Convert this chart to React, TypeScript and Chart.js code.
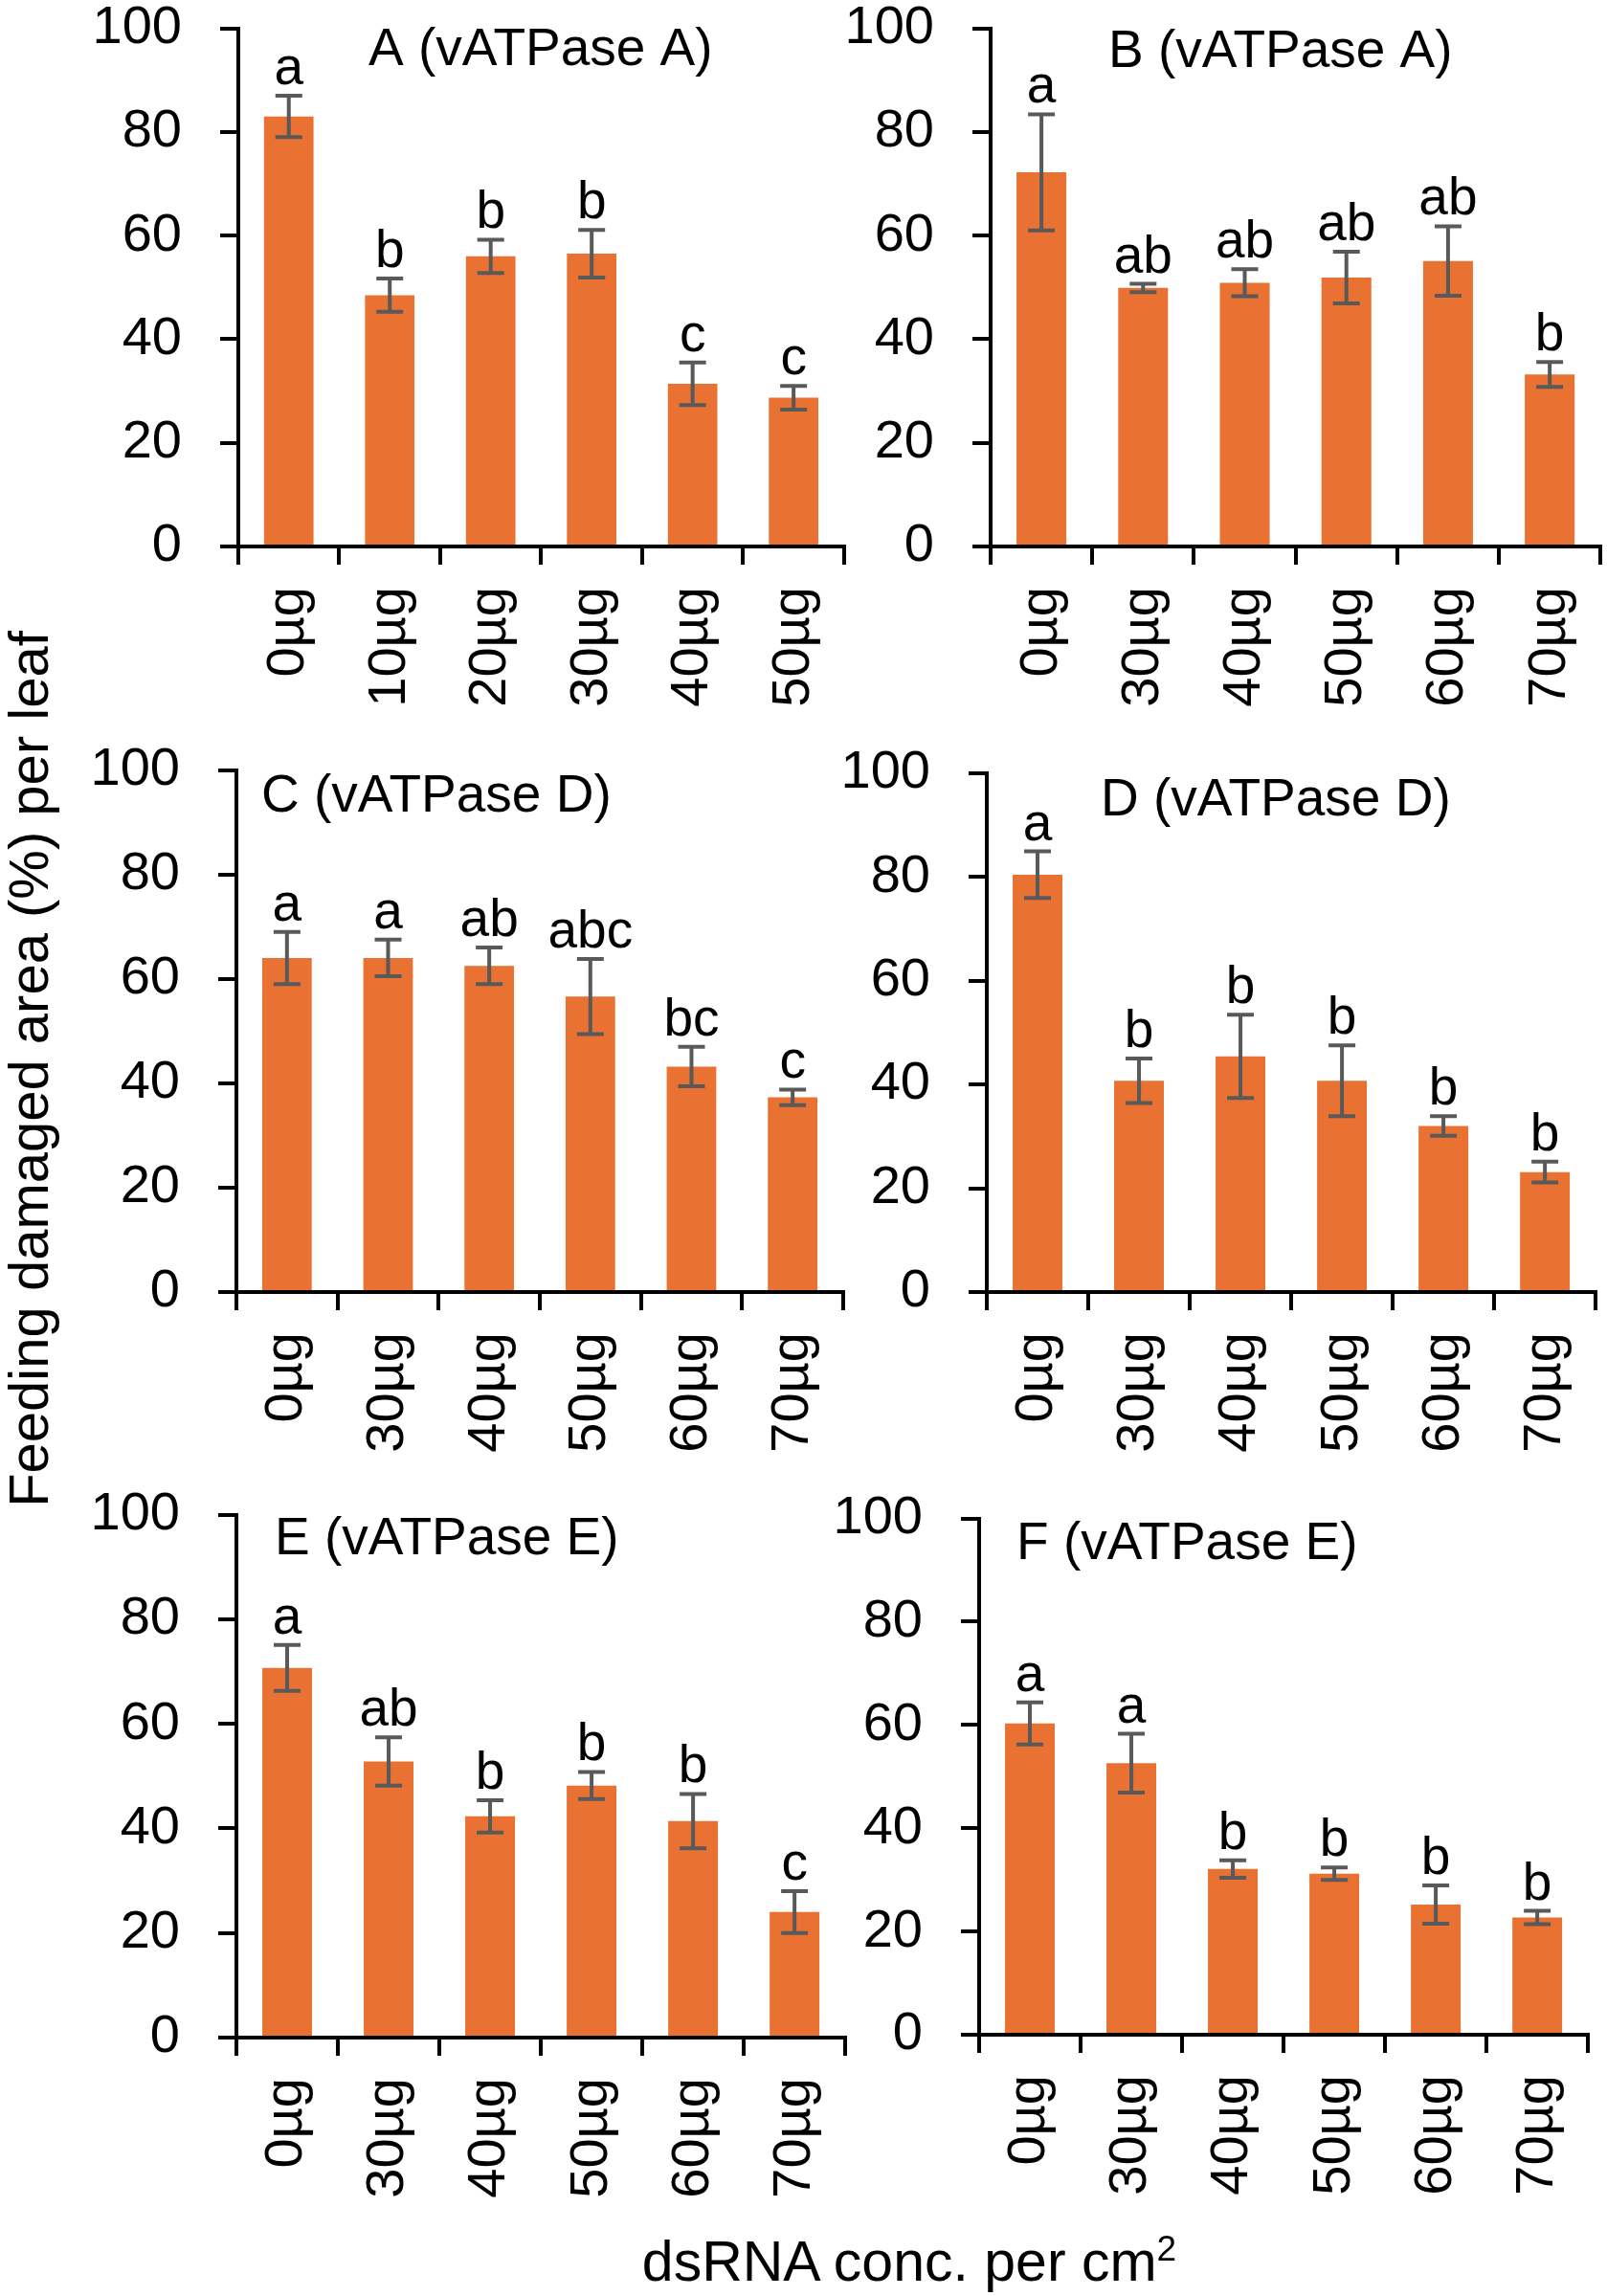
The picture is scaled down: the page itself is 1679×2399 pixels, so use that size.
import { useEffect, useRef } from "react"
import { Chart, registerables } from "chart.js"

Chart.register(...registerables)

const FONT = "'Liberation Sans', Arial, Helvetica, sans-serif"
const BAR_COLOR = "#E97132"
const ERR_COLOR = "#595959"

// categories
const dosesA = ["0µg", "10µg", "20µg", "30µg", "40µg", "50µg"]
const dosesB = ["0µg", "30µg", "40µg", "50µg", "60µg", "70µg"]

// panel A (vATPase A)
const meanA = [83, 48.5, 56, 56.5, 31.4, 28.7]
const errA = [4, 3.2, 3.2, 4.6, 4.1, 2.3]
const lettersA = ["a", "b", "b", "b", "c", "c"]

// panel B (vATPase A)
const meanB = [72.2, 49.9, 50.9, 51.9, 55.1, 33.2]
const errB = [11.2, 0.8, 2.6, 5, 6.7, 2.4]
const lettersB = ["a", "ab", "ab", "ab", "ab", "b"]

// panel C (vATPase D)
const meanC = [64, 64, 62.5, 56.6, 43.2, 37.3]
const errC = [5, 3.5, 3.5, 7.2, 3.8, 1.5]
const lettersC = ["a", "a", "ab", "abc", "bc", "c"]

// panel D (vATPase D)
const meanD = [80.4, 40.7, 45.4, 40.7, 32, 23.1]
const errD = [4.5, 4.3, 8, 6.8, 1.9, 2]
const lettersD = ["a", "b", "b", "b", "b", "b"]

// panel E (vATPase E)
const meanE = [70.7, 52.8, 42.3, 48.2, 41.4, 24]
const errE = [4.4, 4.6, 3.1, 2.6, 5.2, 4]
const lettersE = ["a", "ab", "b", "b", "b", "c"]

// panel F (vATPase E)
const meanF = [60.3, 52.6, 32.1, 31.2, 25.2, 22.7]
const errF = [4.1, 5.7, 1.7, 1.2, 3.7, 1.3]
const lettersF = ["a", "a", "b", "b", "b", "b"]

const yTicks = [0, 20, 40, 60, 80, 100]

const Y_AXIS_W = 180
const X_AXIS_H = 210

interface Box {
  axisX: number
  axisEnd: number
  top: number
  zero: number
  titleX: number
  titleY: number
}

interface PanelProps {
  title: string
  labels: string[]
  means: number[]
  errors: number[]
  letters: string[]
  box: Box
}

function Panel({ title, labels, means, errors, letters, box }: PanelProps) {
  const wrapRef = useRef<HTMLDivElement>(null)
  const canvasRef = useRef<HTMLCanvasElement>(null)

  useEffect(() => {
    const canvas = canvasRef.current
    const wrap = wrapRef.current
    if (!canvas || !wrap) return

    const plotW = box.axisEnd - box.axisX
    const plotH = box.zero - box.top

    // error bars, significance letters and the panel title
    const extras = {
      id: "extras",
      afterDatasetsDraw(chart: Chart) {
        const { ctx, chartArea } = chart
        const y = chart.scales.y
        const meta = chart.getDatasetMeta(0)
        ctx.save()
        ctx.strokeStyle = ERR_COLOR
        ctx.lineWidth = 4
        ctx.fillStyle = "#000"
        ctx.font = `55px ${FONT}`
        ctx.textAlign = "center"
        ctx.textBaseline = "alphabetic"
        meta.data.forEach((bar: any, i: number) => {
          const yt = y.getPixelForValue(means[i] + errors[i])
          const yb = y.getPixelForValue(means[i] - errors[i])
          const x = bar.x
          ctx.beginPath()
          ctx.moveTo(x, yt)
          ctx.lineTo(x, yb)
          ctx.moveTo(x - 14, yt)
          ctx.lineTo(x + 14, yt)
          ctx.moveTo(x - 14, yb)
          ctx.lineTo(x + 14, yb)
          ctx.stroke()
          ctx.fillText(letters[i], x, yt - 12)
        })
        ctx.textAlign = "left"
        ctx.fillText(title, chartArea.left + box.titleX, chartArea.top + box.titleY)
        ctx.restore()
      },
    }

    const makeChart = (w: number, h: number) => {
      canvas.width = w
      canvas.height = h
      canvas.style.width = w + "px"
      canvas.style.height = h + "px"
      return new Chart(canvas, {
        type: "bar",
        data: {
          labels,
          datasets: [
            {
              data: means,
              backgroundColor: BAR_COLOR,
              borderWidth: 0,
              barPercentage: 0.49,
              categoryPercentage: 1,
            },
          ],
        },
        options: {
          responsive: false,
          animation: false,
          devicePixelRatio: 1,
          layout: { padding: { top: 10, right: 20, left: 0, bottom: 0 } },
          plugins: {
            legend: { display: false },
            tooltip: { enabled: false },
            title: { display: false },
          },
          scales: {
            x: {
              offset: true,
              grid: {
                offset: true,
                drawOnChartArea: false,
                drawTicks: true,
                tickLength: 19,
                color: "#000",
                lineWidth: 4,
              },
              border: { display: true, color: "#000", width: 4 },
              ticks: {
                color: "#000",
                font: { size: 56, family: FONT },
                minRotation: 90,
                maxRotation: 90,
                padding: 23,
                autoSkip: false,
              },
              afterFit: (s: any) => {
                s.height = X_AXIS_H
              },
            },
            y: {
              min: 0,
              max: 100,
              afterBuildTicks: (s: any) => {
                s.ticks = yTicks.map((v) => ({ value: v }))
              },
              grid: {
                drawOnChartArea: false,
                drawTicks: true,
                tickLength: 19,
                color: "#000",
                lineWidth: 4,
              },
              border: { display: true, color: "#000", width: 4 },
              ticks: {
                color: "#000",
                font: { size: 56, family: FONT },
                padding: 40,
              },
              afterFit: (s: any) => {
                s.width = Y_AXIS_W
              },
            },
          },
        },
        plugins: [extras],
      })
    }

    // first pass measures the margins Chart.js leaves, second pass fits the plot box
    const w0 = plotW + Y_AXIS_W + 40
    const h0 = plotH + X_AXIS_H + 60
    let chart = makeChart(w0, h0)
    const ca = chart.chartArea
    const w1 = Math.round(ca.left + plotW + (w0 - ca.right))
    const h1 = Math.round(ca.top + plotH + (h0 - ca.bottom))
    chart.destroy()
    chart = makeChart(w1, h1)
    wrap.style.left = box.axisX - chart.chartArea.left + "px"
    wrap.style.top = box.top - chart.chartArea.top + "px"

    return () => {
      chart.destroy()
    }
  }, [title, labels, means, errors, letters, box])

  return (
    <div ref={wrapRef} style={{ position: "absolute", left: 0, top: 0 }}>
      <canvas ref={canvasRef} />
    </div>
  )
}

const boxA: Box = { axisX: 249, axisEnd: 882, top: 30, zero: 571, titleX: 136, titleY: 38 }
const boxB: Box = { axisX: 1035, axisEnd: 1672, top: 30, zero: 571, titleX: 123, titleY: 40 }
const boxC: Box = { axisX: 247, axisEnd: 881, top: 805, zero: 1350, titleX: 26, titleY: 43 }
const boxD: Box = { axisX: 1031, axisEnd: 1667, top: 808, zero: 1350, titleX: 119, titleY: 44 }
const boxE: Box = { axisX: 247, axisEnd: 883, top: 1583, zero: 2129, titleX: 40, titleY: 41 }
const boxF: Box = { axisX: 1023, axisEnd: 1659, top: 1587, zero: 2126, titleX: 39, titleY: 42 }

export default function App() {
  useEffect(() => {
    document.body.style.margin = "0"
  }, [])

  return (
    <div
      style={{
        position: "relative",
        width: 1679,
        height: 2399,
        background: "#fff",
        fontFamily: FONT,
        color: "#000",
        overflow: "hidden",
      }}
    >
      <Panel title="A (vATPase A)" labels={dosesA} means={meanA} errors={errA} letters={lettersA} box={boxA} />
      <Panel title="B (vATPase A)" labels={dosesB} means={meanB} errors={errB} letters={lettersB} box={boxB} />
      <Panel title="C (vATPase D)" labels={dosesB} means={meanC} errors={errC} letters={lettersC} box={boxC} />
      <Panel title="D (vATPase D)" labels={dosesB} means={meanD} errors={errD} letters={lettersD} box={boxD} />
      <Panel title="E (vATPase E)" labels={dosesB} means={meanE} errors={errE} letters={lettersE} box={boxE} />
      <Panel title="F (vATPase E)" labels={dosesB} means={meanF} errors={errF} letters={lettersF} box={boxF} />
      <div
        style={{
          position: "absolute",
          left: 30,
          top: 1117,
          transform: "translate(-50%, -50%) rotate(-90deg)",
          fontSize: 58,
          lineHeight: "58px",
          whiteSpace: "nowrap",
        }}
      >
        Feeding damaged area (%) per leaf
      </div>
      <div
        style={{
          position: "absolute",
          left: 950,
          top: 2334,
          transform: "translateX(-50%)",
          fontSize: 59,
          lineHeight: "59px",
          whiteSpace: "nowrap",
        }}
      >
        dsRNA conc. per cm<sup style={{ fontSize: 37, lineHeight: 0, verticalAlign: "super" }}>2</sup>
      </div>
    </div>
  )
}
